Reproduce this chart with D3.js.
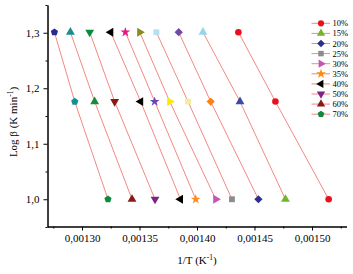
<html>
  <head>
    <script src="https://d3js.org/d3.v7.min.js"></script>
    <style>
      body { margin: 0; background: #fff; }
      text { font-family: "Liberation Serif", "Times New Roman", serif; }
    </style>
  </head>
  <body>
    <svg width="353" height="274" id="chart"></svg>
  <script type="text/javascript">
    // conversion levels (one red line each)
    var conversions = ["10%", "15%", "20%", "25%", "30%", "35%", "40%", "50%", "60%", "70%"];
    // heating rates as log(beta)
    var logBeta = [1.0, 1.176, 1.301];
    // 1/T for each conversion, one array per heating rate
    var invT_b10 = [0.0015145, 0.0014769, 0.0014534, 0.0014304, 0.0014163, 0.0013989, 0.0013856, 0.0013635, 0.0013435, 0.0013226];
    var invT_b15 = [0.0014682, 0.0014374, 0.0014119, 0.0013922, 0.0013763, 0.0013632, 0.0013510, 0.0013284, 0.0013110, 0.0012937];
    var invT_b20 = [0.0014360, 0.0014052, 0.0013841, 0.0013647, 0.0013502, 0.0013377, 0.0013250, 0.0013067, 0.0012899, 0.0012760];
    var xTicks = [0.00130, 0.00135, 0.00140, 0.00145, 0.00150];
    var yTicks = [1.0, 1.1, 1.2, 1.3];

    // marker shape per conversion, colours per heating-rate row
    var shapes = ["circle", "up", "diamond", "square", "right", "star", "left", "down", "up", "penta"];
    var colors_b10 = ["#e8101c", "#72b52a", "#2e2e8e", "#8c8c8c", "#c455b4", "#ff8c10", "#000000", "#7a2486", "#8a1a14", "#0e8a3e"];
    var colors_b15 = ["#e8101c", "#3a4aa6", "#ff8010", "#f2eca0", "#ffe800", "#6a44b0", "#000000", "#8a1a14", "#1a8a3a", "#16908e"];
    var colors_b20 = ["#e8101c", "#94d6ea", "#7048a8", "#b4e0f0", "#8a8a1e", "#e81684", "#000000", "#0a8a3a", "#16908e", "#2a2a8e"];

    var lineColor = "#f06a62";

    var svg = d3.select("#chart");

    var x = d3.scaleLinear().domain([0.00127, 0.00153]).range([47.5, 346.5]);
    var y = d3.scaleLinear().domain([0.95, 1.35]).range([227, 5]);

    function poly(n, rot) {
      return {
        draw: function(ctx, size) {
          var r = Math.sqrt(size / (n * 0.5 * Math.sin(2 * Math.PI / n)));
          for (var i = 0; i < n; i++) {
            var a = rot + i * 2 * Math.PI / n;
            var px = r * Math.cos(a), py = r * Math.sin(a);
            if (i == 0) ctx.moveTo(px, py); else ctx.lineTo(px, py);
          }
          ctx.closePath();
        }
      };
    }
    var symbolTypes = {
      circle: d3.symbolCircle,
      up: poly(3, -Math.PI / 2),
      down: poly(3, Math.PI / 2),
      left: poly(3, Math.PI),
      right: poly(3, 0),
      diamond: poly(4, -Math.PI / 2),
      square: d3.symbolSquare,
      star: d3.symbolStar,
      penta: poly(5, -Math.PI / 2)
    };
    function sym(name, size) {
      return d3.symbol().type(symbolTypes[name]).size(size || 30)();
    }

    // minor ticks
    svg.append("g")
      .attr("transform", "translate(0,226.5)")
      .call(d3.axisBottom(x).tickValues([0.001275, 0.001325, 0.001375, 0.001425, 0.001475, 0.001525]).tickSize(2).tickSizeOuter(0).tickFormat(""));
    svg.append("g")
      .attr("transform", "translate(47.5,0)")
      .call(d3.axisLeft(y).tickValues([0.95, 1.05, 1.15, 1.25, 1.35]).tickSize(2).tickSizeOuter(0).tickFormat(""));

    var xAxis = svg.append("g")
      .attr("transform", "translate(0,226.5)")
      .call(d3.axisBottom(x).tickValues(xTicks).tickSize(4).tickSizeOuter(0).tickPadding(4)
        .tickFormat(function(d) { return d3.format(".5f")(d).replace(".", ","); }));
    var yAxis = svg.append("g")
      .attr("transform", "translate(47.5,0)")
      .call(d3.axisLeft(y).tickValues(yTicks).tickSize(4).tickSizeOuter(0).tickPadding(4)
        .tickFormat(function(d) { return d3.format(".1f")(d).replace(".", ","); }));

    svg.selectAll(".tick text").attr("font-family", "Liberation Serif").attr("font-size", 11).attr("fill", "#000");
    svg.selectAll(".domain, .tick line").attr("stroke", "#000");

    // lines, one per conversion
    var rows = [
      { lb: logBeta[0], xs: invT_b10, cs: colors_b10 },
      { lb: logBeta[1], xs: invT_b15, cs: colors_b15 },
      { lb: logBeta[2], xs: invT_b20, cs: colors_b20 }
    ];
    var line = d3.line().x(function(d) { return x(d[0]); }).y(function(d) { return y(d[1]); });
    conversions.forEach(function(c, i) {
      var pts = rows.map(function(r) { return [r.xs[i], r.lb]; });
      svg.append("path")
        .attr("d", line(pts))
        .attr("fill", "none")
        .attr("stroke", lineColor)
        .attr("stroke-width", 0.8);
    });

    rows.forEach(function(r) {
      conversions.forEach(function(c, i) {
        svg.append("path")
          .attr("transform", "translate(" + x(r.xs[i]) + "," + y(r.lb) + ")")
          .attr("d", sym(shapes[i], shapes[i] == "star" ? 30 : 34))
          .attr("fill", r.cs[i]);
      });
    });

    // legend
    var leg = svg.append("g");
    conversions.forEach(function(c, i) {
      var ly = 23.3 + i * 10.1;
      leg.append("line").attr("x1", 311.5).attr("x2", 330).attr("y1", ly).attr("y2", ly)
        .attr("stroke", lineColor).attr("stroke-width", 0.8);
      leg.append("path").attr("transform", "translate(321," + ly + ")")
        .attr("d", sym(shapes[i], 30)).attr("fill", colors_b10[i]);
      leg.append("text").attr("x", 332.5).attr("y", ly + 3).attr("font-size", 8.5).text(c);
    });

    // axis titles
    var xt = svg.append("text").attr("x", 197).attr("y", 264).attr("text-anchor", "middle").attr("font-size", 11);
    xt.append("tspan").text("1/T (K");
    xt.append("tspan").attr("dy", -4).attr("font-size", 7.5).text("-1");
    xt.append("tspan").attr("dy", 4).text(")");

    var yt = svg.append("text").attr("transform", "translate(17,122) rotate(-90)").attr("text-anchor", "middle").attr("font-size", 11);
    yt.append("tspan").text("Log \u03b2 (K min");
    yt.append("tspan").attr("dy", -4).attr("font-size", 7.5).text("-1");
    yt.append("tspan").attr("dy", 4).text(")");
  </script>
  </body>
</html>
